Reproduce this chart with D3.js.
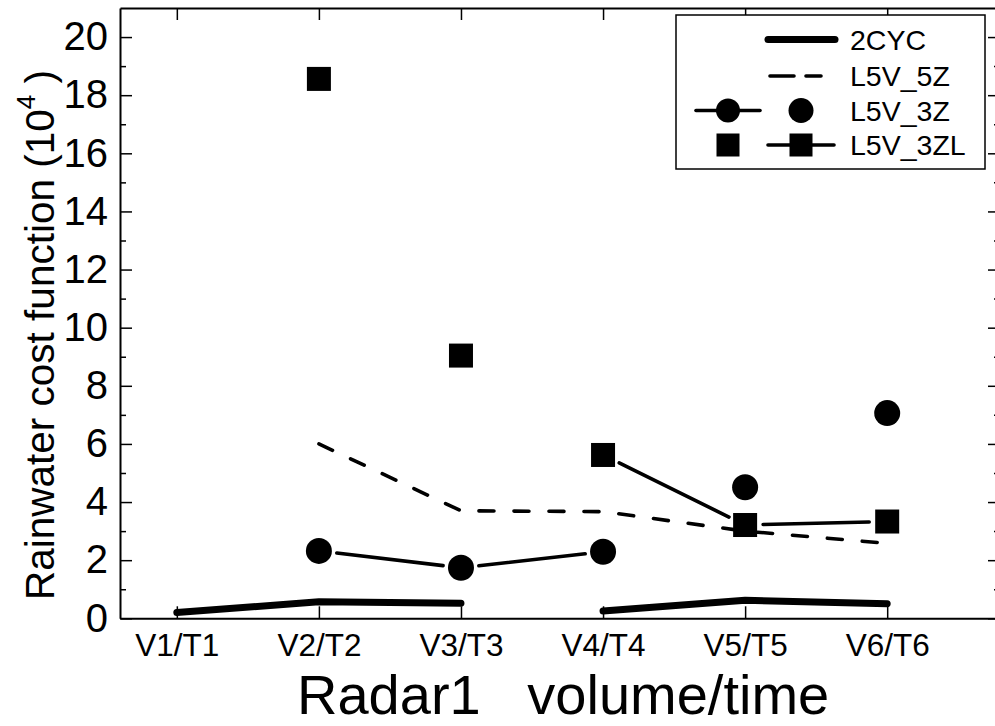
<!DOCTYPE html>
<html>
<head>
<meta charset="utf-8">
<script src="https://cdn.jsdelivr.net/npm/d3@7"></script>
<style>
  body { margin: 0; background: #fff; }
  svg { display: block; }
  text { font-family: "Liberation Sans", Arial, sans-serif; fill: #000; }
</style>
</head>
<body>
<svg id="chart" width="995" height="726"></svg>
<script>
// Categories along the x axis
const categories = ["V1/T1", "V2/T2", "V3/T3", "V4/T4", "V5/T5", "V6/T6"];
// Major and minor y ticks (units of 10^4)
const yTicks = [0, 2, 4, 6, 8, 10, 12, 14, 16, 18, 20];
const yMinorTicks = [1, 3, 5, 7, 9, 11, 13, 15, 17, 19];

// 2CYC: thick solid line, drawn as two separate runs
const twoCyc = [0.2, 0.57, 0.52, 0.25, 0.62, 0.5];
const twoCycRuns = [[0, 1, 2], [3, 4, 5]];
// L5V_5Z: dashed line
const l5v5z = [null, 6.0, 3.7, 3.67, 3.0, 2.58];
// L5V_3Z: circles joined by a line, and circles without a line
const l5v3zLine = [null, 2.32, 1.74, 2.29, null, null];
const l5v3zDots = [null, null, null, null, 4.51, 7.06];
// L5V_3ZL: squares without a line, and squares joined by a line
const l5v3zlDots = [null, 18.56, 9.04, null, null, null];
const l5v3zlLine = [null, null, null, 5.62, 3.21, 3.33];

const legendLabels = ["2CYC", "L5V_5Z", "L5V_3Z", "L5V_3ZL"];

const svg = d3.select("#chart");
const W = 995, H = 726;
svg.append("rect").attr("width", W).attr("height", H).attr("fill", "#fff");

const plotLeft = 120, plotRight = 1000, plotTop = 8, plotBottom = 618.3;

const x = d3.scaleLinear().domain([-0.4, 5.794]).range([plotLeft, plotRight]);
const y = d3.scaleLinear().domain([0, 21]).range([plotBottom, plotTop]);

const idx = d3.range(categories.length);

// ---- axes ----
function styleAxis(g, size) {
  g.attr("font-family", null).attr("font-size", size);
  g.select(".domain").attr("stroke", "#000").attr("stroke-width", 2);
  g.selectAll(".tick line").attr("stroke", "#000").attr("stroke-width", 1.5);
  g.selectAll(".tick text").attr("fill", "#000");
}

svg.append("g").attr("transform", `translate(${plotLeft},0)`)
  .call(d3.axisLeft(y).tickValues(yTicks).tickSize(-12).tickSizeOuter(0).tickPadding(12).tickFormat(d3.format("d")))
  .call(g => styleAxis(g, 40));
svg.append("g").attr("transform", `translate(${plotLeft},0)`)
  .call(d3.axisLeft(y).tickValues(yMinorTicks).tickSize(-6).tickSizeOuter(0).tickFormat(""))
  .call(g => { styleAxis(g, 10); g.select(".domain").remove(); });

svg.append("g").attr("transform", `translate(${plotRight},0)`)
  .call(d3.axisRight(y).tickValues(yTicks).tickSize(-12).tickSizeOuter(0).tickFormat(""))
  .call(g => styleAxis(g, 10));
svg.append("g").attr("transform", `translate(${plotRight},0)`)
  .call(d3.axisRight(y).tickValues(yMinorTicks).tickSize(-6).tickSizeOuter(0).tickFormat(""))
  .call(g => { styleAxis(g, 10); g.select(".domain").remove(); });

svg.append("g").attr("transform", `translate(0,${plotBottom})`)
  .call(d3.axisBottom(x).tickValues(idx).tickSize(-12).tickSizeOuter(0).tickPadding(15).tickFormat(i => categories[i]))
  .call(g => styleAxis(g, 31.5));
svg.append("g").attr("transform", `translate(0,${plotTop})`)
  .call(d3.axisTop(x).tickValues(idx).tickSize(-12).tickSizeOuter(0).tickFormat(""))
  .call(g => styleAxis(g, 10));

// ---- axis titles ----
svg.append("text")
  .attr("x", 297).attr("y", 714)
  .attr("font-size", 56)
  .style("white-space", "pre")
  .text("Radar1   volume/time");

const yTitle = svg.append("text")
  .attr("transform", "translate(54,600) rotate(-90)")
  .attr("font-size", 40.5)
  .style("white-space", "pre");
yTitle.append("tspan").text("Rainwater cost function (10");
yTitle.append("tspan").attr("font-size", 26).attr("dy", -19).text("4");
yTitle.append("tspan").attr("dy", 19).text(" )");

// ---- marks ----
const plot = svg.append("g");

// line through points with gaps around each marker
function gappedSegments(pts, gap) {
  const segs = [];
  for (let k = 0; k < pts.length - 1; k++) {
    const [x0, y0] = pts[k], [x1, y1] = pts[k + 1];
    const len = Math.hypot(x1 - x0, y1 - y0);
    const ux = (x1 - x0) / len, uy = (y1 - y0) / len;
    segs.push([[x0 + ux * gap, y0 + uy * gap], [x1 - ux * gap, y1 - uy * gap]]);
  }
  return segs;
}
function toPoints(values) {
  return idx.filter(i => values[i] != null).map(i => [x(i), y(values[i])]);
}

const line = d3.line();

// 2CYC thick runs
twoCycRuns.forEach(run => {
  plot.append("path")
    .attr("d", line(run.map(i => [x(i), y(twoCyc[i])])))
    .attr("fill", "none").attr("stroke", "#000")
    .attr("stroke-width", 7).attr("stroke-linecap", "round").attr("stroke-linejoin", "round");
});

// L5V_5Z dashed
plot.append("path")
  .attr("d", line(toPoints(l5v5z)))
  .attr("fill", "none").attr("stroke", "#000")
  .attr("stroke-width", 3.6).attr("stroke-dasharray", "15,20")
  .attr("stroke-linecap", "round").attr("stroke-linejoin", "round");

// connecting lines with marker gaps
[l5v3zLine, l5v3zlLine].forEach(vals => {
  gappedSegments(toPoints(vals), 18).forEach(s => {
    plot.append("line")
      .attr("x1", s[0][0]).attr("y1", s[0][1]).attr("x2", s[1][0]).attr("y2", s[1][1])
      .attr("stroke", "#000").attr("stroke-width", 3.6).attr("stroke-linecap", "round");
  });
});

// circles
const R = 13, S = 24;
plot.selectAll("circle.l5v3z")
  .data(toPoints(l5v3zLine).concat(toPoints(l5v3zDots)))
  .join("circle")
  .attr("cx", d => d[0]).attr("cy", d => d[1]).attr("r", R).attr("fill", "#000");

// squares
plot.selectAll("rect.l5v3zl")
  .data(toPoints(l5v3zlDots).concat(toPoints(l5v3zlLine)))
  .join("rect")
  .attr("x", d => d[0] - S / 2).attr("y", d => d[1] - S / 2)
  .attr("width", S).attr("height", S).attr("fill", "#000");

// ---- legend ----
const lg = svg.append("g");
lg.append("rect").attr("x", 676).attr("y", 15).attr("width", 309).attr("height", 154)
  .attr("fill", "#fff").attr("stroke", "#000").attr("stroke-width", 1.5);
const rowY = [39.5, 76, 110.5, 145];
legendLabels.forEach((t, k) => {
  lg.append("text").attr("x", 850).attr("y", rowY[k]).attr("dy", "0.36em")
    .attr("font-size", 28.5).text(t);
});
// row 1: thick line
lg.append("line").attr("x1", 768).attr("x2", 835).attr("y1", rowY[0]).attr("y2", rowY[0])
  .attr("stroke", "#000").attr("stroke-width", 7).attr("stroke-linecap", "round");
// row 2: dashed
lg.append("line").attr("x1", 770).attr("x2", 835).attr("y1", rowY[1]).attr("y2", rowY[1])
  .attr("stroke", "#000").attr("stroke-width", 3.6).attr("stroke-dasharray", "24,12,15,100")
  .attr("stroke-linecap", "round");
// row 3: circle with line, plain circle
lg.append("line").attr("x1", 696).attr("x2", 760).attr("y1", rowY[2]).attr("y2", rowY[2])
  .attr("stroke", "#000").attr("stroke-width", 3.6).attr("stroke-linecap", "round");
lg.append("circle").attr("cx", 728).attr("cy", rowY[2]).attr("r", 12).attr("fill", "#000");
lg.append("circle").attr("cx", 801).attr("cy", rowY[2]).attr("r", 12.5).attr("fill", "#000");
// row 4: plain square, square with line
lg.append("rect").attr("x", 728 - 11.5).attr("y", rowY[3] - 11.5).attr("width", 23).attr("height", 23).attr("fill", "#000");
lg.append("line").attr("x1", 768).attr("x2", 834).attr("y1", rowY[3]).attr("y2", rowY[3])
  .attr("stroke", "#000").attr("stroke-width", 3.6).attr("stroke-linecap", "round");
lg.append("rect").attr("x", 801 - 11.5).attr("y", rowY[3] - 11.5).attr("width", 23).attr("height", 23).attr("fill", "#000");
</script>
</body>
</html>
